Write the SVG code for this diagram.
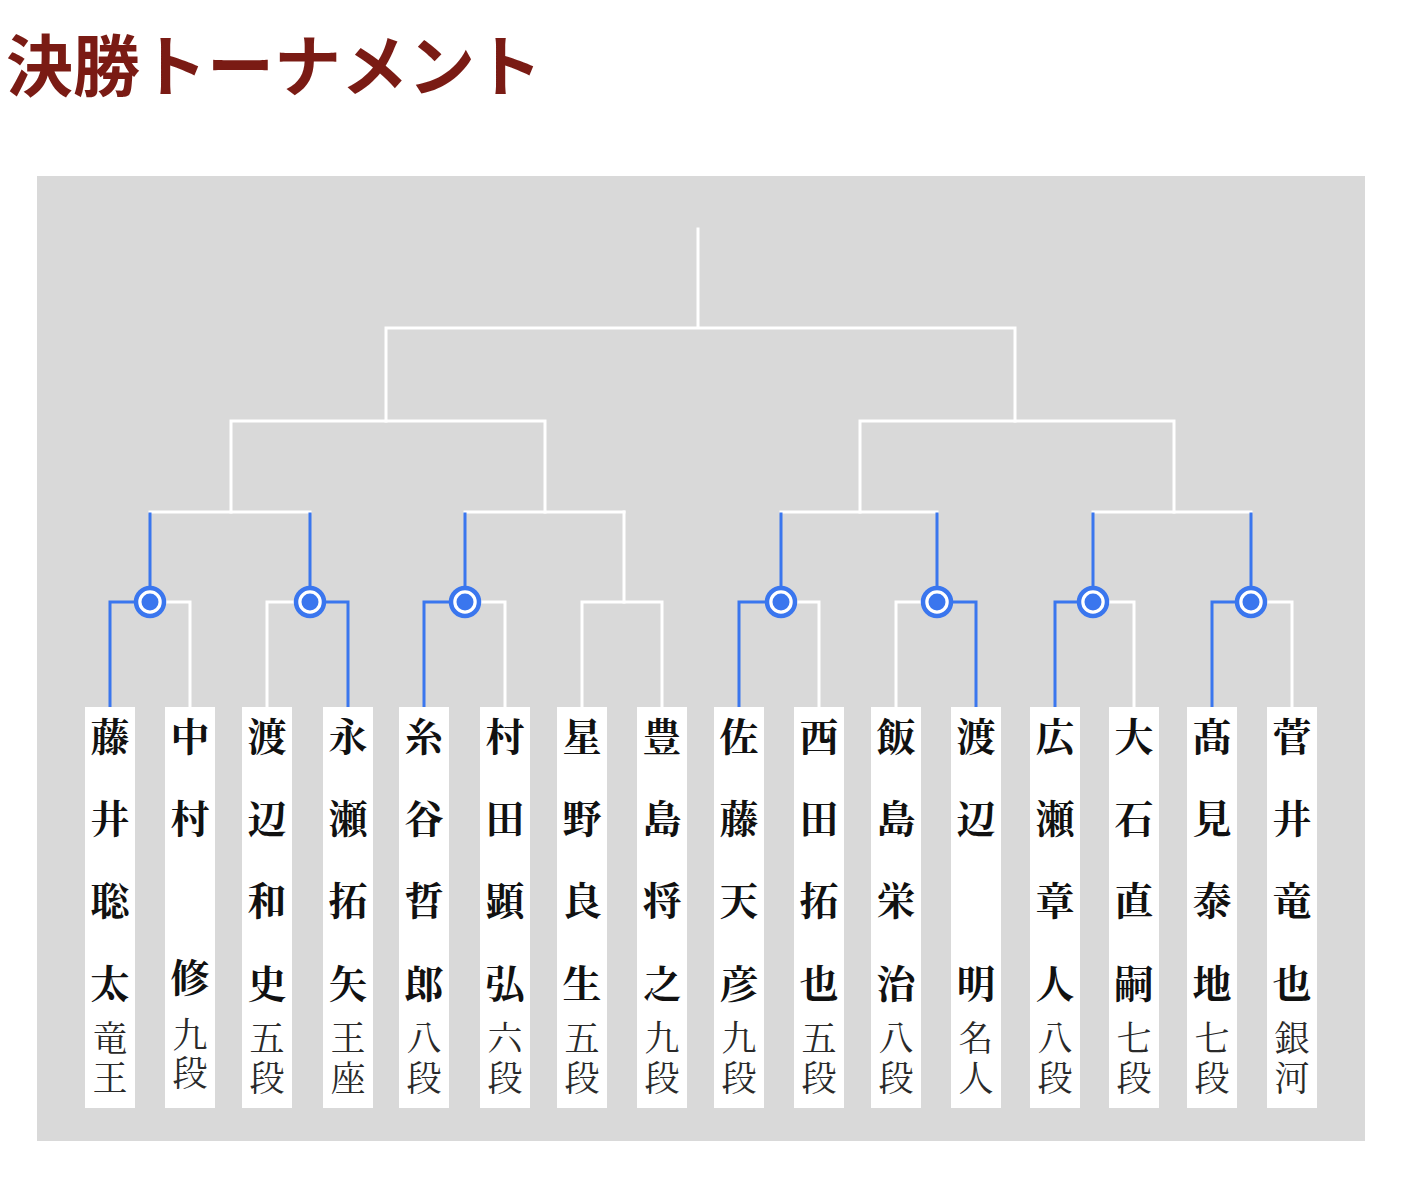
<svg xmlns="http://www.w3.org/2000/svg" width="1405" height="1203" viewBox="0 0 1405 1203">
<style>
.title{font-family:"Noto Sans CJK JP","Noto Sans CJK SC",sans-serif;font-weight:700;font-size:67px;fill:#7a1b14}
.w{fill:none;stroke:#ffffff;stroke-width:3;stroke-linecap:square}
.b{fill:none;stroke:#3a76ee;stroke-width:3;stroke-linecap:square}
.card{fill:#ffffff}
.nm{font-family:"Noto Serif CJK JP","Noto Sans CJK JP",serif;font-weight:700;font-size:39px;fill:#111111;text-anchor:middle}
.rk{font-family:"Noto Serif CJK JP","Noto Sans CJK JP",serif;font-weight:400;font-size:35px;fill:#2a2a2a;writing-mode:vertical-rl;letter-spacing:5px}
</style>
<defs>
<g id="win">
<circle r="14" fill="#ffffff" stroke="#3a76ee" stroke-width="4.5"/>
<circle r="8.5" fill="#3a76ee"/>
</g>
</defs>
<rect width="1405" height="1203" fill="#ffffff"/>
<text class="title" x="6" y="91">決勝トーナメント</text>
<rect x="37" y="176" width="1328" height="965" fill="#d9d9d9"/>

<g id="connectors">
<path class="w" d="M698,229 V328 M386,421 V328 H1015 V421"/>
<path class="w" d="M231,512 V421 H545 V512 M860,512 V421 H1174 V512"/>
<path class="w" d="M150,512 H310 M465,512 H624 M781,512 H937 M1093,512 H1251"/>
<path class="w" d="M624,512 V602"/>
<path class="w" d="M190,707 V602 H150"/>
<path class="w" d="M267,707 V602 H310"/>
<path class="w" d="M505,707 V602 H465"/>
<path class="w" d="M582,707 V602 H662 V707"/>
<path class="w" d="M819,707 V602 H781"/>
<path class="w" d="M896,707 V602 H937"/>
<path class="w" d="M1134,707 V602 H1093"/>
<path class="w" d="M1292,707 V602 H1251"/>
<path class="b" d="M110,707 V602 H150 V514"/>
<path class="b" d="M348,707 V602 H310 V514"/>
<path class="b" d="M424,707 V602 H465 V514"/>
<path class="b" d="M739,707 V602 H781 V514"/>
<path class="b" d="M976,707 V602 H937 V514"/>
<path class="b" d="M1055,707 V602 H1093 V514"/>
<path class="b" d="M1212,707 V602 H1251 V514"/>
<use href="#win" x="150" y="602"/>
<use href="#win" x="310" y="602"/>
<use href="#win" x="465" y="602"/>
<use href="#win" x="781" y="602"/>
<use href="#win" x="937" y="602"/>
<use href="#win" x="1093" y="602"/>
<use href="#win" x="1251" y="602"/>
</g>

<g id="p1"><rect class="card" x="85" y="707" width="50" height="401"/>
<text class="nm"><tspan x="110" y="751">藤</tspan><tspan x="110" y="833">井</tspan><tspan x="110" y="915">聡</tspan><tspan x="110" y="998">太</tspan></text>
<text class="rk" x="110" y="1020">竜王</text></g>

<g id="p2"><rect class="card" x="165" y="707" width="50" height="401"/>
<text class="nm"><tspan x="190" y="751">中</tspan><tspan x="190" y="833">村</tspan><tspan x="190" y="992">修</tspan></text>
<text class="rk" x="190" y="1017" style="letter-spacing:3px">九段</text></g>

<g id="p3"><rect class="card" x="242" y="707" width="50" height="401"/>
<text class="nm"><tspan x="267" y="751">渡</tspan><tspan x="267" y="833">辺</tspan><tspan x="267" y="915">和</tspan><tspan x="267" y="998">史</tspan></text>
<text class="rk" x="267" y="1020">五段</text></g>

<g id="p4"><rect class="card" x="323" y="707" width="50" height="401"/>
<text class="nm"><tspan x="348" y="751">永</tspan><tspan x="348" y="833">瀬</tspan><tspan x="348" y="915">拓</tspan><tspan x="348" y="998">矢</tspan></text>
<text class="rk" x="348" y="1020">王座</text></g>

<g id="p5"><rect class="card" x="399" y="707" width="50" height="401"/>
<text class="nm"><tspan x="424" y="751">糸</tspan><tspan x="424" y="833">谷</tspan><tspan x="424" y="915">哲</tspan><tspan x="424" y="998">郎</tspan></text>
<text class="rk" x="424" y="1020">八段</text></g>

<g id="p6"><rect class="card" x="480" y="707" width="50" height="401"/>
<text class="nm"><tspan x="505" y="751">村</tspan><tspan x="505" y="833">田</tspan><tspan x="505" y="915">顕</tspan><tspan x="505" y="998">弘</tspan></text>
<text class="rk" x="505" y="1020">六段</text></g>

<g id="p7"><rect class="card" x="557" y="707" width="50" height="401"/>
<text class="nm"><tspan x="582" y="751">星</tspan><tspan x="582" y="833">野</tspan><tspan x="582" y="915">良</tspan><tspan x="582" y="998">生</tspan></text>
<text class="rk" x="582" y="1020">五段</text></g>

<g id="p8"><rect class="card" x="637" y="707" width="50" height="401"/>
<text class="nm"><tspan x="662" y="751">豊</tspan><tspan x="662" y="833">島</tspan><tspan x="662" y="915">将</tspan><tspan x="662" y="998">之</tspan></text>
<text class="rk" x="662" y="1020">九段</text></g>

<g id="p9"><rect class="card" x="714" y="707" width="50" height="401"/>
<text class="nm"><tspan x="739" y="751">佐</tspan><tspan x="739" y="833">藤</tspan><tspan x="739" y="915">天</tspan><tspan x="739" y="998">彦</tspan></text>
<text class="rk" x="739" y="1020">九段</text></g>

<g id="p10"><rect class="card" x="794" y="707" width="50" height="401"/>
<text class="nm"><tspan x="819" y="751">西</tspan><tspan x="819" y="833">田</tspan><tspan x="819" y="915">拓</tspan><tspan x="819" y="998">也</tspan></text>
<text class="rk" x="819" y="1020">五段</text></g>

<g id="p11"><rect class="card" x="871" y="707" width="50" height="401"/>
<text class="nm"><tspan x="896" y="751">飯</tspan><tspan x="896" y="833">島</tspan><tspan x="896" y="915">栄</tspan><tspan x="896" y="998">治</tspan></text>
<text class="rk" x="896" y="1020">八段</text></g>

<g id="p12"><rect class="card" x="951" y="707" width="50" height="401"/>
<text class="nm"><tspan x="976" y="751">渡</tspan><tspan x="976" y="833">辺</tspan><tspan x="976" y="998">明</tspan></text>
<text class="rk" x="976" y="1020">名人</text></g>

<g id="p13"><rect class="card" x="1030" y="707" width="50" height="401"/>
<text class="nm"><tspan x="1055" y="751">広</tspan><tspan x="1055" y="833">瀬</tspan><tspan x="1055" y="915">章</tspan><tspan x="1055" y="998">人</tspan></text>
<text class="rk" x="1055" y="1020">八段</text></g>

<g id="p14"><rect class="card" x="1109" y="707" width="50" height="401"/>
<text class="nm"><tspan x="1134" y="751">大</tspan><tspan x="1134" y="833">石</tspan><tspan x="1134" y="915">直</tspan><tspan x="1134" y="998">嗣</tspan></text>
<text class="rk" x="1134" y="1020">七段</text></g>

<g id="p15"><rect class="card" x="1187" y="707" width="50" height="401"/>
<text class="nm"><tspan x="1212" y="751">髙</tspan><tspan x="1212" y="833">見</tspan><tspan x="1212" y="915">泰</tspan><tspan x="1212" y="998">地</tspan></text>
<text class="rk" x="1212" y="1020">七段</text></g>

<g id="p16"><rect class="card" x="1267" y="707" width="50" height="401"/>
<text class="nm"><tspan x="1292" y="751">菅</tspan><tspan x="1292" y="833">井</tspan><tspan x="1292" y="915">竜</tspan><tspan x="1292" y="998">也</tspan></text>
<text class="rk" x="1292" y="1020">銀河</text></g>
</svg>
